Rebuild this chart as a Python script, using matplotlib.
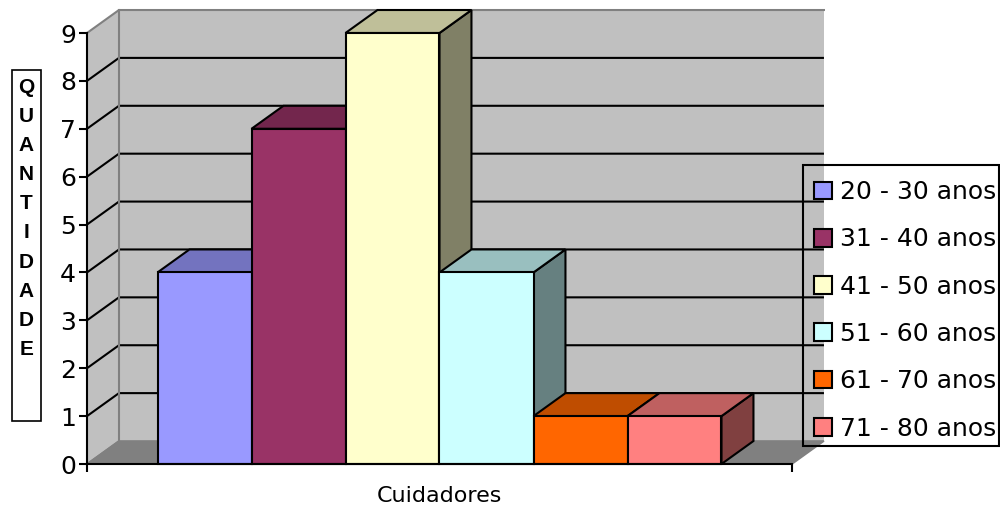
import matplotlib
matplotlib.use("Agg")
import matplotlib.pyplot as plt
from matplotlib.patches import Polygon, Rectangle, Patch

# data
faixas = ["20 - 30 anos", "31 - 40 anos", "41 - 50 anos",
          "51 - 60 anos", "61 - 70 anos", "71 - 80 anos"]
quantidade = [4, 7, 9, 4, 1, 1]
cores = ["#9999FF", "#993366", "#FFFFCC", "#CCFFFF", "#FF6600", "#FF8080"]
categoria = "Cuidadores"
titulo_y = "QUANTIDADE"
yticks = list(range(10))

# excel-like 3d depth (in data units)
DX, DY = 0.34, 0.48
X0, X1 = -0.75, len(quantidade) + 0.75
YMAX = 9


def shade(hexcol, f):
    r, g, b = matplotlib.colors.to_rgb(hexcol)
    return (r * f, g * f, b * f)


fig = plt.figure(figsize=(10, 5.11), dpi=100)
ax = fig.add_axes([0.087, 1 - 464 / 511, 0.705, 431 / 511])
ax.set_xlim(X0, X1)
ax.set_ylim(0, YMAX)
ax.patch.set_visible(False)

# walls and floor
wall = "#C0C0C0"
edge = "#808080"
ax.add_patch(Polygon([(X0 + DX, DY), (X1 + DX, DY), (X1 + DX, YMAX + DY), (X0 + DX, YMAX + DY)],
                     closed=True, facecolor=wall, edgecolor="none", clip_on=False, zorder=0))
ax.add_patch(Polygon([(X0, 0), (X0 + DX, DY), (X0 + DX, YMAX + DY), (X0, YMAX)],
                     closed=True, facecolor=wall, edgecolor="none", clip_on=False, zorder=0))
ax.add_patch(Polygon([(X0, 0), (X1, 0), (X1 + DX, DY), (X0 + DX, DY)],
                     closed=True, facecolor=edge, edgecolor=edge, lw=1.2, clip_on=False, zorder=0.5))

# gridlines on walls
for k in yticks[1:-1]:
    ax.plot([X0, X0 + DX, X1 + DX], [k, k + DY, k + DY], color="black", lw=1.5,
            clip_on=False, zorder=1, solid_capstyle="butt")
ax.plot([X0, X0 + DX, X1 + DX], [YMAX, YMAX + DY, YMAX + DY], color=edge, lw=1.5,
        clip_on=False, zorder=1)
ax.plot([X0 + DX, X0 + DX], [DY, YMAX + DY], color=edge, lw=1.5, clip_on=False, zorder=1)
ax.plot([X0, X0 + DX], [0, DY], color=edge, lw=1.2, clip_on=False, zorder=1)

# bars, left to right
for i, (v, c) in enumerate(zip(quantidade, cores)):
    z = 2 + i
    kw = dict(closed=True, edgecolor="black", lw=1.5, clip_on=False, zorder=z, joinstyle="miter")
    ax.add_patch(Polygon([(i + 1, 0), (i + 1 + DX, DY), (i + 1 + DX, v + DY), (i + 1, v)],
                         facecolor=shade(c, 0.5), **kw))
    ax.add_patch(Polygon([(i, v), (i + 1, v), (i + 1 + DX, v + DY), (i + DX, v + DY)],
                         facecolor=shade(c, 0.75), **kw))
    ax.add_patch(Polygon([(i, 0), (i + 1, 0), (i + 1, v), (i, v)],
                         facecolor=c, **kw))

# axes
for s in ["top", "right"]:
    ax.spines[s].set_visible(False)
for s in ["left", "bottom"]:
    ax.spines[s].set_linewidth(1.5)
    ax.spines[s].set_zorder(20)
ax.set_yticks(yticks)
ax.set_xticks([X0, X1])
ax.set_xticklabels(["", ""])
ax.tick_params(axis="both", direction="out", length=6, width=1.5, colors="black")
ax.tick_params(axis="y", labelsize=18, pad=2)
ax.set_xlabel(categoria, fontsize=16, labelpad=6)

# y title, stacked letters in a box
fig.patches.append(Rectangle((12 / 1000, 1 - 421 / 511), 29 / 1000, 351 / 511,
                             transform=fig.transFigure, facecolor="white",
                             edgecolor="black", lw=1.2))
for j, ch in enumerate(titulo_y):
    fig.text(26.5 / 1000, 1 - (87 + j * 29.2) / 511, ch, ha="center", va="center",
             fontsize=15, fontweight="bold", family="Liberation Sans")

# legend (frame drawn separately, transparent)
handles = [Patch(facecolor=c, edgecolor="black", lw=1.5) for c in cores]
leg = ax.legend(handles, faixas, loc="upper left", bbox_to_anchor=(0.803, 1 - 169 / 511),
                bbox_transform=fig.transFigure, fontsize=18, frameon=False,
                handlelength=0.72, handleheight=0.72, handletextpad=0.3,
                labelspacing=0.93, borderpad=0.45, borderaxespad=0)
leg.set_zorder(30)
fig.patches.append(Rectangle((803 / 1000, 1 - 446 / 511), 196 / 1000, 281 / 511,
                             transform=fig.transFigure, facecolor="none",
                             edgecolor="black", lw=1.5, zorder=30))

fig.savefig("out.png", dpi=100)
